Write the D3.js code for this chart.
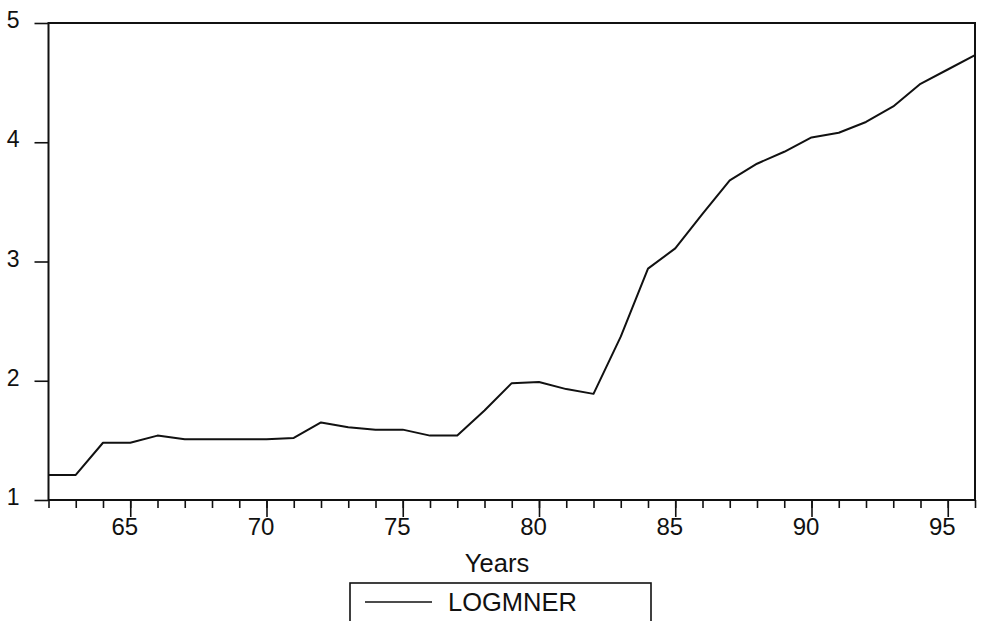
<!DOCTYPE html>
<html>
<head>
<meta charset="utf-8">
<script src="https://cdn.jsdelivr.net/npm/d3@7"></script>
<style>
  body { margin: 0; background: #fff; }
  text { font-family: "Liberation Sans", Arial, sans-serif; fill: #111; }
</style>
</head>
<body>
<div id="chart"></div>
<script>
// years (two digit, as on the axis) and the LOGMNER series
var years = [62, 63, 64, 65, 66, 67, 68, 69, 70, 71, 72, 73, 74, 75, 76, 77, 78, 79,
             80, 81, 82, 83, 84, 85, 86, 87, 88, 89, 90, 91, 92, 93, 94, 95, 96];
var logmner = [1.21, 1.21, 1.48, 1.48, 1.54, 1.51, 1.51, 1.51, 1.51, 1.52, 1.65, 1.61,
               1.59, 1.59, 1.54, 1.54, 1.75, 1.98, 1.99, 1.93, 1.89, 2.37, 2.94, 3.11,
               3.40, 3.68, 3.82, 3.92, 4.04, 4.08, 4.17, 4.30, 4.49, 4.61, 4.73];
var yTicks = [1, 2, 3, 4, 5];
var xMajor = [65, 70, 75, 80, 85, 90, 95];
var seriesName = 'LOGMNER';
var xTitle = 'Years';

(function () {
    var W = 981, H = 621;
    var mLeft = 48.5, mRight = 975, mTop = 23, mBottom = 500;
    var font = '"Liberation Sans", Arial, sans-serif';

    var svg = d3.select('#chart').append('svg')
        .attr('width', W)
        .attr('height', H);

    var x = d3.scaleLinear().domain([62, 96]).range([mLeft, mRight]);
    var y = d3.scaleLinear().domain([1, 5]).range([mBottom, mTop]);

    // frame
    svg.append('rect')
        .attr('x', mLeft).attr('y', mTop)
        .attr('width', mRight - mLeft).attr('height', mBottom - mTop)
        .attr('fill', 'none').attr('stroke', '#111').attr('stroke-width', 2);

    // y axis, ticks pointing out
    var yAxis = svg.append('g')
        .attr('transform', 'translate(' + mLeft + ',0)')
        .call(d3.axisLeft(y).tickValues(yTicks).tickFormat(d3.format('d')).tickSize(14).tickPadding(15));
    yAxis.select('.domain').remove();
    yAxis.selectAll('line').attr('stroke', '#111').attr('stroke-width', 1.6);
    yAxis.selectAll('text').attr('dy', '0.2em')
        .style('font-size', '23px').style('font-family', font).style('fill', '#111');

    // x axis: small tick each year, longer tick every five
    var xMinor = svg.append('g')
        .attr('transform', 'translate(0,' + mBottom + ')')
        .call(d3.axisBottom(x).tickValues(years).tickSize(8).tickFormat(''));
    xMinor.select('.domain').remove();
    xMinor.selectAll('line').attr('stroke', '#111').attr('stroke-width', 1.6);

    var xAxis = svg.append('g')
        .attr('transform', 'translate(0,' + mBottom + ')')
        .call(d3.axisBottom(x).tickValues(xMajor).tickSize(17).tickPadding(1).tickFormat(d3.format('d')));
    xAxis.select('.domain').remove();
    xAxis.selectAll('line').attr('stroke', '#111').attr('stroke-width', 1.6);
    xAxis.selectAll('text').attr('dx', -6)
        .style('font-size', '24px').style('font-family', font).style('fill', '#111');

    svg.append('text')
        .attr('x', 497).attr('y', 572)
        .attr('text-anchor', 'middle')
        .style('font-size', '25.5px')
        .text(xTitle);

    // the series
    var line = d3.line()
        .x(function (d, i) { return x(years[i]); })
        .y(function (d) { return y(d); });

    svg.append('path')
        .datum(logmner)
        .attr('d', line)
        .attr('fill', 'none')
        .attr('stroke', '#111')
        .attr('stroke-width', 2)
        .attr('stroke-linejoin', 'round');

    // legend
    var legend = svg.append('g').attr('transform', 'translate(350,583)');
    legend.append('rect')
        .attr('width', 301).attr('height', 60)
        .attr('fill', '#fff').attr('stroke', '#111').attr('stroke-width', 1.6);
    legend.append('line')
        .attr('x1', 15).attr('x2', 82).attr('y1', 19).attr('y2', 19)
        .attr('stroke', '#111').attr('stroke-width', 1.6);
    legend.append('text')
        .attr('x', 98).attr('y', 28)
        .style('font-size', '25.5px')
        .text(seriesName);
})();
</script>
</body>
</html>
